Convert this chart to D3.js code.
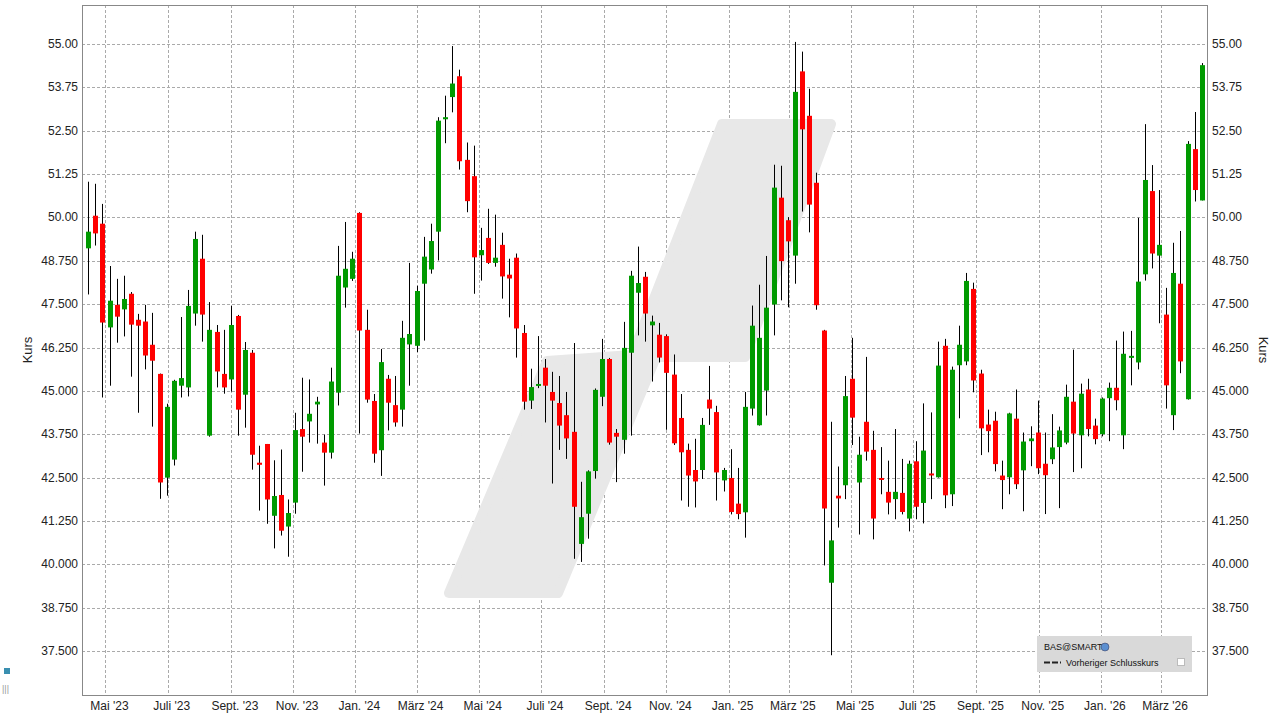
<!DOCTYPE html>
<html>
<head>
<meta charset="utf-8">
<script src="https://cdn.jsdelivr.net/npm/d3@7"></script>
<style>
  body { margin: 0; background: #fff; }
  text { font-family: "Liberation Sans", Arial, sans-serif; }
</style>
</head>
<body>
<script>
// weekly candles, first week
const firstWeek = "2023-04-14";

const open = [49.11,50.05,49.82,46.83,47.48,47.35,47.80,47.05,47.00,46.33,45.49,42.50,43.02,45.15,45.10,47.23,48.81,43.71,46.70,45.49,
  45.33,47.16,44.89,46.10,42.93,43.47,41.40,42.00,41.09,41.78,43.90,44.12,44.61,43.51,43.22,44.95,47.98,48.23,50.13,46.76,
  44.71,43.29,45.35,44.59,44.46,46.34,46.30,48.09,48.50,49.59,52.83,53.47,54.07,51.66,51.19,48.91,49.41,48.69,49.21,48.35,
  48.84,46.67,44.72,45.15,45.67,44.97,44.65,44.30,43.82,40.59,41.46,42.69,44.83,45.92,43.79,43.59,46.10,47.83,48.29,46.89,
  46.62,46.58,45.47,44.22,43.30,42.72,42.72,44.75,44.39,42.42,42.49,41.75,41.50,44.49,44.01,45.01,47.49,50.57,49.92,48.90,
  54.21,52.93,51.00,46.74,39.47,41.98,42.28,45.35,42.36,44.11,43.30,42.49,42.09,41.88,42.06,41.32,42.97,41.77,42.62,42.51,
  46.30,42.02,45.74,45.85,47.94,45.50,44.03,44.14,42.56,42.51,44.20,42.71,43.55,43.80,42.90,43.03,43.38,43.51,44.69,43.72,
  45.04,44.00,43.75,44.79,45.09,43.72,45.98,45.82,48.36,50.76,48.90,47.20,44.30,48.09,44.76,51.97,50.49];
const high = [51.03,50.97,50.39,48.60,48.23,48.32,47.85,47.22,47.48,47.25,45.50,44.63,45.32,47.13,47.91,49.59,49.50,47.56,46.90,46.76,
  47.45,47.19,46.41,46.18,43.42,43.47,43.00,43.31,41.87,44.37,45.38,45.33,44.83,43.74,45.67,49.18,49.87,49.01,50.15,47.34,
  44.91,46.21,45.46,45.43,47.02,48.69,48.03,49.44,49.82,52.89,53.51,54.94,54.26,52.16,52.07,49.70,50.25,50.08,49.56,48.81,
  48.96,46.90,45.64,46.58,45.92,45.55,45.43,44.97,46.38,42.38,42.71,45.07,46.50,45.95,43.90,46.99,48.46,49.16,48.43,47.17,
  46.96,46.63,46.05,44.91,43.48,43.62,44.22,45.72,44.57,42.78,43.32,42.78,44.97,47.46,48.06,48.89,51.52,51.49,50.01,55.06,
  54.78,53.71,51.29,46.76,44.11,42.82,45.43,46.53,43.68,45.98,43.85,43.38,42.99,43.90,43.04,42.99,43.55,44.64,44.38,46.42,
  46.50,45.70,46.88,48.40,48.12,45.61,44.46,44.40,42.99,44.37,45.04,43.80,43.98,44.72,43.80,44.33,43.97,45.18,46.19,45.21,
  45.35,44.20,44.81,45.24,46.45,46.71,46.73,49.99,52.69,51.51,50.79,47.97,49.27,49.61,52.20,53.04,54.45];
const low = [47.78,49.19,44.81,45.15,46.39,46.57,45.41,44.37,45.62,43.97,41.89,41.98,42.85,44.81,44.84,46.88,46.42,43.68,45.10,44.92,
  44.98,43.71,43.94,42.73,41.55,41.17,40.46,40.83,40.22,41.46,42.67,43.51,43.48,42.27,43.05,44.58,47.40,48.17,43.77,44.66,
  42.93,42.55,43.86,43.97,43.97,45.15,46.12,46.45,48.38,48.76,52.14,53.03,51.38,50.15,47.80,48.18,48.66,48.58,47.66,47.12,
  45.96,44.46,44.48,45.08,44.09,42.33,43.30,43.04,40.16,40.07,40.74,42.47,44.56,43.45,42.37,43.19,43.71,46.60,46.42,45.27,
  45.82,43.88,43.44,41.84,41.66,41.64,42.46,44.02,41.84,42.10,41.44,41.30,40.77,44.29,44.00,44.29,46.60,47.61,47.41,48.09,
  50.17,49.57,47.34,39.97,37.38,41.06,41.88,43.44,40.86,42.99,40.72,42.02,41.44,41.30,41.44,40.95,41.30,41.18,41.88,42.50,
  41.62,41.68,44.21,45.74,44.96,43.15,43.23,42.68,41.59,42.02,42.17,41.53,42.83,42.60,41.45,42.89,41.62,43.46,42.66,42.77,
  43.69,43.46,43.69,43.55,44.44,43.32,45.16,45.62,48.18,48.53,46.95,44.49,43.87,45.51,44.75,50.46,50.49];
const close = [49.59,49.54,46.97,47.60,47.14,47.65,46.91,46.88,46.02,45.87,42.36,44.54,45.29,45.37,47.45,49.38,47.20,46.76,45.56,45.10,
  46.90,44.46,46.18,43.16,42.87,41.87,41.97,40.97,41.48,43.87,43.68,44.34,44.69,43.22,45.27,48.32,48.52,48.81,46.74,44.75,
  43.19,45.83,44.66,44.09,46.53,46.64,47.88,48.87,49.32,52.79,52.89,53.86,51.62,50.47,48.85,49.06,48.69,48.84,48.30,48.24,
  46.80,44.69,45.11,45.20,45.15,44.72,44.00,43.63,41.66,41.36,42.68,45.03,45.92,43.51,43.68,46.24,48.32,48.11,47.23,47.00,
  45.96,45.52,43.49,43.23,42.56,42.39,44.02,44.49,42.65,42.72,41.51,41.45,44.54,46.88,46.53,47.40,50.86,48.74,49.31,53.62,
  52.54,50.37,47.47,41.61,40.69,41.90,44.85,44.23,43.16,43.25,41.32,42.45,41.78,42.09,41.51,42.90,41.66,43.28,42.57,45.73,
  41.99,45.61,46.33,48.17,45.30,43.92,43.84,42.89,42.43,44.35,42.31,43.54,43.63,42.77,42.57,43.37,43.86,44.83,43.77,44.92,
  43.90,43.61,44.78,45.09,44.73,46.07,46.01,48.15,51.08,48.96,49.21,45.16,48.40,45.85,52.12,50.79,54.39];

const yTicks = [37.5,38.75,40,41.25,42.5,43.75,45,46.25,47.5,48.75,50,51.25,52.5,53.75,55];
const yTickLabels = ["37.500","38.750","40.000","41.250","42.500","43.750","45.000","46.250","47.500","48.750","50.00","51.25","52.50","53.75","55.00"];
const xTicks = ["2023-05-01","2023-07-01","2023-09-01","2023-11-01","2024-01-01","2024-03-01","2024-05-01","2024-07-01","2024-09-01",
  "2024-11-01","2025-01-01","2025-03-01","2025-05-01","2025-07-01","2025-09-01","2025-11-01","2026-01-01","2026-03-01"];
const xTickLabels = ["Mai '23","Juli '23","Sept. '23","Nov. '23","Jan. '24","März '24","Mai '24","Juli '24","Sept. '24",
  "Nov. '24","Jan. '25","März '25","Mai '25","Juli '25","Sept. '25","Nov. '25","Jan. '26","März '26"];

const W = 1280, H = 719;
const m = {left: 82, right: 1207, top: 5, bottom: 695};
const parse = d3.timeParse("%Y-%m-%d");
const t0 = parse(firstWeek);
const candles = open.map((o, i) => ({
  date: d3.timeDay.offset(t0, i * 7), o: o, h: high[i], l: low[i], c: close[i]
}));

const x = d3.scaleTime().domain([parse("2023-04-08"), parse("2026-04-15")]).range([m.left, m.right]);
const y = d3.scaleLinear().domain([36.234, 56.124]).range([m.bottom, m.top]);

const svg = d3.select("body").append("svg").attr("width", W).attr("height", H);

// grid
const grid = svg.append("g").attr("stroke", "#aaa").attr("stroke-dasharray", "3,2").attr("stroke-width", 1);
grid.selectAll(".gy").data(yTicks).enter().append("line")
  .attr("x1", m.left).attr("x2", m.right)
  .attr("y1", d => Math.round(y(d)) + 0.5).attr("y2", d => Math.round(y(d)) + 0.5);
grid.selectAll(".gx").data(xTicks).enter().append("line")
  .attr("y1", m.top).attr("y2", m.bottom)
  .attr("x1", d => Math.round(x(parse(d))) + 0.5).attr("x2", d => Math.round(x(parse(d))) + 0.5);

// watermark
const wm = [[449,593],[558,593],[656,357],[745,357],[831,124],[722,124],[632,355],[547,361]];
svg.append("path").attr("d", d3.line()(wm) + "Z")
  .attr("fill", "#e8e8e8").attr("stroke", "#e8e8e8").attr("stroke-width", 10).attr("stroke-linejoin", "round");

// candles
const cg = svg.append("g");
const bw = 5;
cg.selectAll(".wick").data(candles).enter().append("line")
  .attr("x1", d => Math.round(x(d.date)) + 0.5).attr("x2", d => Math.round(x(d.date)) + 0.5)
  .attr("y1", d => y(d.h)).attr("y2", d => y(d.l))
  .attr("stroke", "#000").attr("stroke-width", 1);
cg.selectAll(".body").data(candles).enter().append("rect")
  .attr("x", d => Math.round(x(d.date)) - 2)
  .attr("width", bw)
  .attr("y", d => y(Math.max(d.o, d.c)))
  .attr("height", d => Math.max(2, Math.abs(y(d.o) - y(d.c))))
  .attr("fill", d => d.c >= d.o ? "#009a00" : "#ff0000");

// frame
svg.append("rect").attr("x", m.left + 0.5).attr("y", m.top + 0.5)
  .attr("width", m.right - m.left).attr("height", m.bottom - m.top)
  .attr("fill", "none").attr("stroke", "#888");

// axes labels
const fs = 12;
svg.selectAll(".yl").data(yTicks).enter().append("text")
  .attr("x", 78).attr("y", d => y(d) + 4).attr("text-anchor", "end")
  .attr("font-size", fs).attr("fill", "#222").text((d, i) => yTickLabels[i]);
svg.selectAll(".yr").data(yTicks).enter().append("text")
  .attr("x", 1212).attr("y", d => y(d) + 4).attr("text-anchor", "start")
  .attr("font-size", fs).attr("fill", "#222").text((d, i) => yTickLabels[i]);
svg.selectAll(".xl").data(xTicks).enter().append("text")
  .attr("x", d => x(parse(d)) + 4).attr("y", 710).attr("text-anchor", "middle")
  .attr("font-size", fs).attr("fill", "#222").text((d, i) => xTickLabels[i]);

svg.append("text").attr("transform", "translate(32,350) rotate(-90)").attr("text-anchor", "middle")
  .attr("font-size", 13).attr("fill", "#222").text("Kurs");
svg.append("text").attr("transform", "translate(1259,350) rotate(90)").attr("text-anchor", "middle")
  .attr("font-size", 13).attr("fill", "#222").text("Kurs");

// legend
const lg = svg.append("g");
lg.append("rect").attr("x", 1037).attr("y", 636).attr("width", 155).attr("height", 36).attr("fill", "#d9d9d9");
lg.append("text").attr("x", 1044).attr("y", 650).attr("font-size", 9).attr("fill", "#111").text("BAS@SMART");
lg.append("circle").attr("cx", 1105).attr("cy", 647).attr("r", 4).attr("fill", "#5b8fd0").attr("stroke", "#335").attr("stroke-width", 0.5);
lg.append("line").attr("x1", 1044).attr("x2", 1061).attr("y1", 662.5).attr("y2", 662.5)
  .attr("stroke", "#222").attr("stroke-width", 2).attr("stroke-dasharray", "6,2");
lg.append("text").attr("x", 1066).attr("y", 666).attr("font-size", 9).attr("fill", "#111").text("Vorheriger Schlusskurs");
lg.append("rect").attr("x", 1177.5).attr("y", 658.5).attr("width", 7).attr("height", 7).attr("fill", "#fff").attr("stroke", "#bbb");

// small corner icons
svg.append("rect").attr("x", 4).attr("y", 668).attr("width", 6).attr("height", 6).attr("fill", "#3a8fb0");
svg.append("text").attr("x", 2).attr("y", 692).attr("font-size", 9).attr("fill", "#999").text("|||");
</script>
</body>
</html>
